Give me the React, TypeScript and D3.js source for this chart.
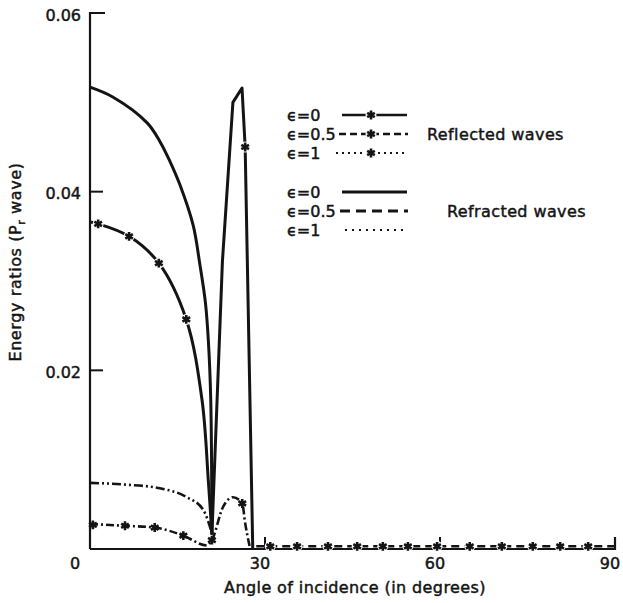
import React from 'react';
import * as d3 from 'd3';

// ---- Data ----
// Refracted waves, eps = 0 (solid, no markers)
const refr0Angles = [0, 3.9, 9.8, 12, 13.7, 15.4, 17.7, 18.8, 19.8, 20.3, 20.7, 20.9];
const refr0Values = [0.0517, 0.0506, 0.0477, 0.0456, 0.0434, 0.0408, 0.0362, 0.032, 0.0275, 0.0232, 0.0167, 0.0018];

// Reflected waves, eps = 0 (solid with star markers): descending branch
const refl0Angles = [0, 1.4, 6.7, 11.8, 16.5, 19.2, 20.3, 20.9];
const refl0Values = [0.0366, 0.0364, 0.035, 0.032, 0.0257, 0.0167, 0.0075, 0.0016];
// ... and the sharp peak after the minimum
const refl0PeakAngles = [20.9, 22.7, 24.5, 26.06, 26.6, 27.9];
const refl0PeakValues = [0.0016, 0.0322, 0.05, 0.0516, 0.045, 0];
const refl0StarAngles = [1.4, 6.7, 11.8, 16.5, 26.6];
const refl0StarValues = [0.0364, 0.035, 0.032, 0.0257, 0.045];

// Lower curve without markers (dash-dot-dot)
const lowAAngles = [0, 6.3, 12, 16.6, 19.4, 20.9];
const lowAValues = [0.0074, 0.0072, 0.0068, 0.0058, 0.0044, 0.0018];

// Lower curve with markers (dash-dot)
const lowBAngles = [0, 6, 11.1, 16, 20, 20.9, 22.8, 24.5, 26.1, 26.6, 27.4];
const lowBValues = [0.0028, 0.0026, 0.0024, 0.0015, 0.0004, 0.001, 0.0047, 0.0058, 0.0051, 0.0029, 0.0002];
const lowBStarAngles = [0.5, 6, 11.1, 16, 20.9, 26.1];
const lowBStarValues = [0.0027, 0.0026, 0.0024, 0.0015, 0.001, 0.0051];

// Beyond the critical angle: reflected energy ~ 0 (dashed with stars)
const tailAngles = [28.5, 90];
const tailValues = [0.0003, 0.0003];
const tailStarAngles = [30.9, 35.5, 40.8, 45.8, 50.2, 54.5, 59.5, 65.1, 70.6, 75.9, 80.6, 85.4];

const xTicks = [0, 30, 60, 90];
const yTicks = [0.02, 0.04, 0.06];
const yTickLabels = ['0.02', '0.04', '0.06'];

const legendEps = ['0', '0.5', '1'];

const W = 623;
const H = 603;
const FONT = 'DejaVu Sans, sans-serif';
const INK = '#141414';

export default function App() {
  const x = d3.scaleLinear().domain([0, 90]).range([90, 615]);
  const y = d3.scaleLinear().domain([0, 0.06]).range([549, 13]);

  const smooth = d3
    .line<[number, number]>()
    .x((d) => x(d[0]))
    .y((d) => y(d[1]))
    .curve(d3.curveCatmullRom.alpha(0.5));

  const mono = d3
    .line<[number, number]>()
    .x((d) => x(d[0]))
    .y((d) => y(d[1]))
    .curve(d3.curveMonotoneX);

  const straight = d3
    .line<[number, number]>()
    .x((d) => x(d[0]))
    .y((d) => y(d[1]));

  const zip = (a: number[], b: number[]) => a.map((v, i) => [v, b[i]] as [number, number]);

  const star = d3.symbol().type(d3.symbolAsterisk).size(55)() as string;

  const x0 = x(0);
  const y0 = y(0);

  const starAt = (px: number, py: number, key: string, halo = false) => (
    <g key={key} transform={`translate(${px},${py})`}>
      {halo && <circle r={5.5} fill="white" />}
      <path d={star} stroke={INK} strokeWidth={2.6} fill="none" />
    </g>
  );

  const txt = { fill: INK, stroke: INK, strokeWidth: 0.45 } as const;

  // legend layout
  const reflRows = [115, 134, 153];
  const refrRows = [192, 211, 230];
  const legTextX = 287;

  return (
    <svg
      width={W}
      height={H}
      style={{ position: 'absolute', left: 0, top: 0, background: 'white' }}
      fontFamily={FONT}
    >
      <rect width={W} height={H} fill="white" />

      {/* Axes */}
      <path
        d={`M${x0},${y0}V${y(0.06)}H${x0 + 15}`}
        fill="none"
        stroke={INK}
        strokeWidth={2.2}
      />
      {yTicks.slice(0, 2).map((t) => (
        <line key={t} x1={x0} x2={x0 + 13} y1={y(t)} y2={y(t)} stroke={INK} strokeWidth={2} />
      ))}
      <path
        d={`M${x0},${y0}H${x(90)}V${y0 - 12}`}
        fill="none"
        stroke={INK}
        strokeWidth={2.2}
      />
      {xTicks.slice(1, 3).map((t) => (
        <line key={t} x1={x(t)} x2={x(t)} y1={y0} y2={y0 - 12} stroke={INK} strokeWidth={2} />
      ))}

      {/* Tick labels */}
      {yTicks.map((t, i) => (
        <text
          key={t}
          x={x0 - 9}
          y={y(t) + 3}
          textAnchor="end"
          dominantBaseline="middle"
          fontSize={16}
          {...txt}
        >
          {yTickLabels[i]}
        </text>
      ))}
      {xTicks.map((t) => (
        <text
          key={t}
          x={t === 0 ? x(t) - 15 : x(t) - 5}
          y={564}
          textAnchor="middle"
          dominantBaseline="middle"
          fontSize={16}
          {...txt}
        >
          {t}
        </text>
      ))}

      {/* Axis titles */}
      <text x={355} y={593} textAnchor="middle" fontSize={16} letterSpacing={0.4} {...txt}>
        Angle of incidence (in degrees)
      </text>
      <text
        transform="translate(21,262) rotate(-90)"
        textAnchor="middle"
        fontSize={16}
        letterSpacing={0.6}
        {...txt}
      >
        Energy ratios (P
        <tspan fontSize={11} dy={4}>r</tspan>
        <tspan dy={-4}> wave)</tspan>
      </text>

      {/* Curves */}
      <path
        d={smooth(zip(refr0Angles, refr0Values)) as string}
        fill="none"
        stroke={INK}
        strokeWidth={3}
      />
      <path
        d={smooth(zip(refl0Angles, refl0Values)) as string}
        fill="none"
        stroke={INK}
        strokeWidth={3}
      />
      <path
        d={straight(zip(refl0PeakAngles, refl0PeakValues)) as string}
        fill="none"
        stroke={INK}
        strokeWidth={3}
        strokeLinejoin="round"
      />
      {refl0StarAngles.map((a, i) => starAt(x(a), y(refl0StarValues[i]), 'r' + i, true))}

      <path
        d={mono(zip(lowAAngles, lowAValues)) as string}
        fill="none"
        stroke={INK}
        strokeWidth={2.6}
        strokeDasharray="9,3,2,3,2,3"
      />
      <path
        d={mono(zip(lowBAngles, lowBValues)) as string}
        fill="none"
        stroke={INK}
        strokeWidth={2.6}
        strokeDasharray="8,3,2,3"
      />
      {lowBStarAngles.map((a, i) => starAt(x(a), y(lowBStarValues[i]), 'b' + i))}

      <path
        d={mono(zip(tailAngles, tailValues)) as string}
        fill="none"
        stroke={INK}
        strokeWidth={2.4}
        strokeDasharray="8,5"
      />
      {tailStarAngles.map((a, i) => starAt(x(a), y(tailValues[0]), 't' + i, true))}

      {/* Legend: reflected */}
      {legendEps.map((e, i) => (
        <text key={'lt' + i} x={legTextX} y={reflRows[i] + 6} fontSize={16} {...txt}>
          {'\u03F5=' + e}
        </text>
      ))}
      <line x1={342} x2={407} y1={reflRows[0]} y2={reflRows[0]} stroke={INK} strokeWidth={2.6} />
      {starAt(371, reflRows[0], 'ls0', true)}
      <line
        x1={339}
        x2={408}
        y1={reflRows[1]}
        y2={reflRows[1]}
        stroke={INK}
        strokeWidth={2.6}
        strokeDasharray="7,4"
      />
      {starAt(371, reflRows[1], 'ls1', true)}
      <line
        x1={336}
        x2={408}
        y1={reflRows[2]}
        y2={reflRows[2]}
        stroke={INK}
        strokeWidth={2.2}
        strokeDasharray="2,4"
      />
      {starAt(371, reflRows[2], 'ls2', true)}
      <text x={427} y={reflRows[1] + 6} fontSize={16} letterSpacing={0.4} {...txt}>
        Reflected waves
      </text>

      {/* Legend: refracted */}
      {legendEps.map((e, i) => (
        <text key={'lr' + i} x={legTextX} y={refrRows[i] + 6} fontSize={16} {...txt}>
          {'\u03F5=' + e}
        </text>
      ))}
      <line x1={342} x2={407} y1={refrRows[0]} y2={refrRows[0]} stroke={INK} strokeWidth={3} />
      <line
        x1={340}
        x2={408}
        y1={refrRows[1]}
        y2={refrRows[1]}
        stroke={INK}
        strokeWidth={2.8}
        strokeDasharray="10,6"
      />
      <line
        x1={345}
        x2={408}
        y1={refrRows[2]}
        y2={refrRows[2]}
        stroke={INK}
        strokeWidth={2}
        strokeDasharray="2,5"
      />
      <text x={447} y={refrRows[1] + 6} fontSize={16} letterSpacing={0.4} {...txt}>
        Refracted waves
      </text>
    </svg>
  );
}
